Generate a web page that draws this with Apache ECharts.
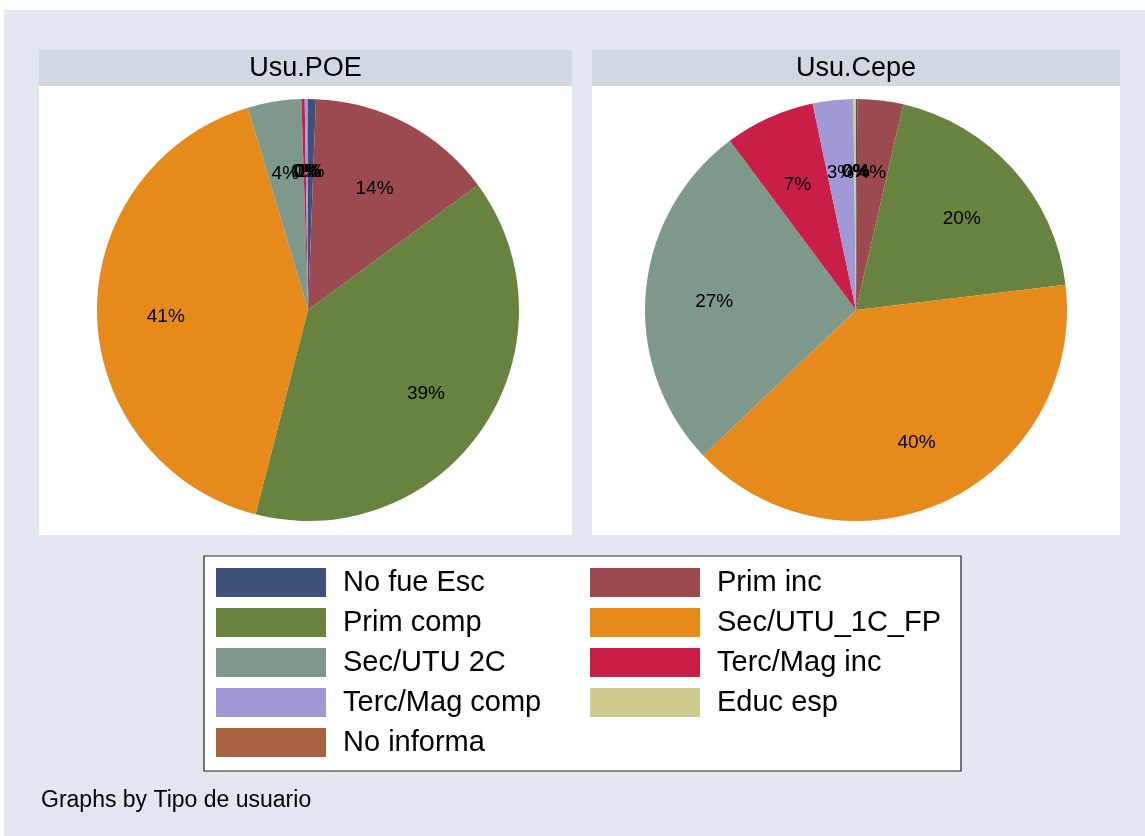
<!DOCTYPE html>
<html>
<head>
<meta charset="utf-8">
<script src="https://cdn.jsdelivr.net/npm/echarts@6/dist/echarts.min.js"></script>
<style>
  html, body { margin: 0; padding: 0; background: #fff; }
  #chart { width: 1145px; height: 836px; }
</style>
</head>
<body>
<div id="chart"></div>
<script>
// categories, in Stata's clockwise order from 12 o'clock
const categories = ['No fue Esc', 'Prim inc', 'Prim comp', 'Sec/UTU_1C_FP', 'Sec/UTU 2C',
  'Terc/Mag inc', 'Terc/Mag comp', 'Educ esp', 'No informa'];
const colors = ['#3e5179', '#9b4a4f', '#67833f', '#e68a1c', '#7e998c',
  '#c81e47', '#a099d6', '#cfca8e', '#a86441'];

// shares (%)
const poeValues = [0.6, 14.3, 39.1, 41.4, 4.1, 0.25, 0.25, 0, 0];
const cepeValues = [0.1, 3.5, 19.5, 39.8, 26.9, 6.9, 3.1, 0.2, 0];

const panelTitles = ['Usu.POE', 'Usu.Cepe'];

// legend columns
const legendLeft = ['No fue Esc', 'Prim comp', 'Sec/UTU 2C', 'Terc/Mag comp', 'No informa'];
const legendRight = ['Prim inc', 'Sec/UTU_1C_FP', 'Terc/Mag inc', 'Educ esp'];

const FONT = 'Liberation Sans, Arial, sans-serif';
const R = 211;

const chart = echarts.init(document.getElementById('chart'));

const toData = vals => categories.map((c, i) => ({ name: c, value: vals[i] }));

function pieSeries(vals, cx) {
  return [
    {
      type: 'pie',
      center: [cx, 310],
      radius: [0, R],
      startAngle: 90,
      clockwise: true,
      silent: true,
      animation: false,
      stillShowZeroSum: true,
      itemStyle: { borderWidth: 0 },
      label: { show: false },
      labelLine: { show: false },
      data: toData(vals)
    },
    {
      // transparent ring used only to place labels at ~2/3 of the radius
      type: 'pie',
      center: [cx, 310],
      radius: [R * 0.32, R],
      startAngle: 90,
      clockwise: true,
      silent: true,
      animation: false,
      legendHoverLink: false,
      minShowLabelAngle: 0,
      avoidLabelOverlap: false,
      itemStyle: { color: 'rgba(0,0,0,0)', borderWidth: 0 },
      label: {
        show: true,
        position: 'inside',
        color: '#000',
        fontFamily: FONT,
        fontSize: 19,
        offset: [0, 4],
        formatter: p => Math.round(p.percent) + '%'
      },
      labelLayout: { hideOverlap: false },
      labelLine: { show: false },
      data: toData(vals)
    }
  ];
}

const panelX = [[39, 572], [592, 1120]];

const graphics = [
  { type: 'rect', shape: { x: 4, y: 10, width: 1141, height: 826 }, style: { fill: '#e1e6f0' }, silent: true, z: -10 }
];
panelX.forEach((p, i) => {
  graphics.push({ type: 'rect', shape: { x: p[0], y: 50, width: p[1] - p[0], height: 36 }, style: { fill: '#d1d8e4' }, silent: true, z: -9 });
  graphics.push({ type: 'rect', shape: { x: p[0], y: 86, width: p[1] - p[0], height: 449 }, style: { fill: '#ffffff' }, silent: true, z: -9 });
  graphics.push({
    type: 'text', x: (p[0] + p[1]) / 2, y: 69, silent: true, z: -8,
    style: { text: panelTitles[i], fill: '#000', font: '27px ' + FONT, textAlign: 'center', textVerticalAlign: 'middle' }
  });
});
graphics.push({ type: 'rect', shape: { x: 204, y: 556, width: 757, height: 215 }, style: { fill: '#fff', stroke: '#222', lineWidth: 1.2 }, silent: true, z: -9 });
graphics.push({
  type: 'text', x: 41, y: 801, silent: true,
  style: { text: 'Graphs by Tipo de usuario', fill: '#000', font: '23px ' + FONT, textVerticalAlign: 'middle' }
});

const legendCommon = {
  orient: 'vertical',
  top: 563,
  itemWidth: 110,
  itemHeight: 29,
  itemGap: 11,
  icon: 'rect',
  selectedMode: false,
  textStyle: { fontFamily: FONT, fontSize: 29, color: '#000', padding: [0, 0, 0, 12] }
};

chart.setOption({
  backgroundColor: '#ffffff',
  color: colors,
  animation: false,
  graphic: graphics,
  legend: [
    Object.assign({}, legendCommon, { left: 211, data: legendLeft }),
    Object.assign({}, legendCommon, { left: 585, data: legendRight })
  ],
  series: [].concat(pieSeries(poeValues, 308), pieSeries(cepeValues, 856))
});
</script>
</body>
</html>
